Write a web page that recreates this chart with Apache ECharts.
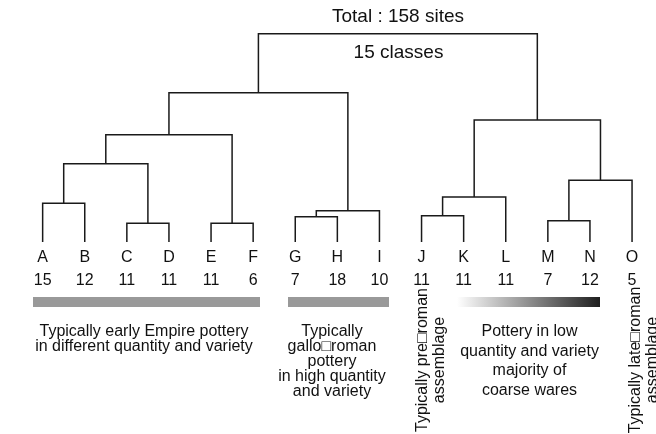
<!DOCTYPE html>
<html>
<head>
<meta charset="utf-8">
<script src="https://cdn.jsdelivr.net/npm/echarts@6/dist/echarts.min.js"></script>
<style>html,body{margin:0;padding:0;background:#fff}#c{width:656px;height:434px}</style>
</head>
<body>
<div id="c"></div>
<script>
// Leaves (classes) and number of sites per class
const leaves = ['A','B','C','D','E','F','G','H','I','J','K','L','M','N','O'];
const siteCounts = [15,12,11,11,11,6,7,18,10,11,11,11,7,12,5];
// Merges: node ids 0..14 are leaves, 15+ are merge nodes in this order
const mergeLeft  = [0, 2, 4, 15, 18, 6, 20, 19, 9, 23, 12, 25, 24, 22];
const mergeRight = [1, 3, 5, 16, 17, 7, 8, 21, 10, 11, 13, 14, 26, 27];
const mergeHeight = [18.6, 9.0, 9.0, 37.6, 51.5, 12.1, 15.0, 71.7, 12.6, 21.6, 10.2, 29.6, 58.6, 100];

const FONT = "'Liberation Sans', Arial, sans-serif";

// derive node positions
const nodeX = leaves.map((_, i) => i);
const nodeH = leaves.map(() => 0);
const segs = [];
for (let k = 0; k < mergeLeft.length; k++) {
  const l = mergeLeft[k], r = mergeRight[k], h = mergeHeight[k];
  segs.push([nodeX[l], nodeH[l], nodeX[r], nodeH[r], h]);
  nodeX.push((nodeX[l] + nodeX[r]) / 2);
  nodeH.push(h);
}

const chart = echarts.init(document.getElementById('c'));
chart.setOption({
  animation: false,
  backgroundColor: '#fff',
  grid: { left: 21.6, right: 2.9, top: 33.7, bottom: 192 },
  xAxis: [{
    type: 'category', data: leaves, boundaryGap: true,
    axisLine: { show: false }, axisTick: { show: false }, splitLine: { show: false },
    axisLabel: {
      interval: 0, margin: 5,
      formatter: (v, i) => '{l|' + v + '}\n{n|' + siteCounts[i] + '}',
      rich: {
        l: { fontSize: 16, lineHeight: 22, color: '#111', fontFamily: FONT },
        n: { fontSize: 16, lineHeight: 24, color: '#111', fontFamily: FONT }
      }
    }
  }, {
    type: 'value', min: -0.5, max: 14.5, show: false
  }],
  yAxis: { type: 'value', min: 0, max: 100, show: false },
  series: [{
    type: 'custom',
    xAxisIndex: 1,
    clip: false,
    data: segs,
    renderItem: (params, api) => {
      const a = api.coord([api.value(0), api.value(1)]);
      const a2 = api.coord([api.value(0), api.value(4)]);
      const b2 = api.coord([api.value(2), api.value(4)]);
      const b = api.coord([api.value(2), api.value(3)]);
      return {
        type: 'polyline',
        shape: { points: [a, a2, b2, b] },
        style: { stroke: '#1a1a1a', lineWidth: 1.5, fill: null }
      };
    }
  }],
  graphic: [
    { type: 'text', x: 398, y: 17, style: { text: 'Total : 158 sites', font: '19px ' + FONT, fill: '#111', align: 'center', verticalAlign: 'middle' } },
    { type: 'text', x: 398.5, y: 53, style: { text: '15 classes', font: '19px ' + FONT, fill: '#111', align: 'center', verticalAlign: 'middle' } },
    { type: 'rect', shape: { x: 33, y: 297, width: 227, height: 10 }, style: { fill: '#999' } },
    { type: 'rect', shape: { x: 288, y: 297, width: 101, height: 10 }, style: { fill: '#999' } },
    { type: 'rect', shape: { x: 457, y: 297, width: 143, height: 10 },
      style: { fill: new echarts.graphic.LinearGradient(0, 0, 1, 0, [{ offset: 0, color: '#ffffff' }, { offset: 1, color: '#1e1e1e' }]) } },
    { type: 'text', x: 144, y: 339.2, style: { text: 'Typically early Empire pottery\nin different quantity and variety', font: '16px ' + FONT, lineHeight: 15, fill: '#111', align: 'center', verticalAlign: 'middle' } },
    { type: 'text', x: 332, y: 361.7, style: { text: 'Typically\ngallo\u25A1roman\npottery\nin high quantity\nand variety', font: '16px ' + FONT, lineHeight: 15, fill: '#111', align: 'center', verticalAlign: 'middle' } },
    { type: 'text', x: 529.5, y: 361, style: { text: 'Pottery in low\nquantity and variety\nmajority of\ncoarse wares', font: '16px ' + FONT, lineHeight: 19.5, fill: '#111', align: 'center', verticalAlign: 'middle' } },
    { type: 'text', x: 431.5, y: 360, rotation: Math.PI / 2, style: { text: 'Typically pre\u25A1roman\nassemblage', font: '16px ' + FONT, lineHeight: 17, fill: '#111', align: 'center', verticalAlign: 'middle' } },
    { type: 'text', x: 644.3, y: 360, rotation: Math.PI / 2, style: { text: 'Typically late\u25A1roman\nassemblage', font: '16px ' + FONT, lineHeight: 17, fill: '#111', align: 'center', verticalAlign: 'middle' } }
  ]
});
</script>
</body>
</html>
